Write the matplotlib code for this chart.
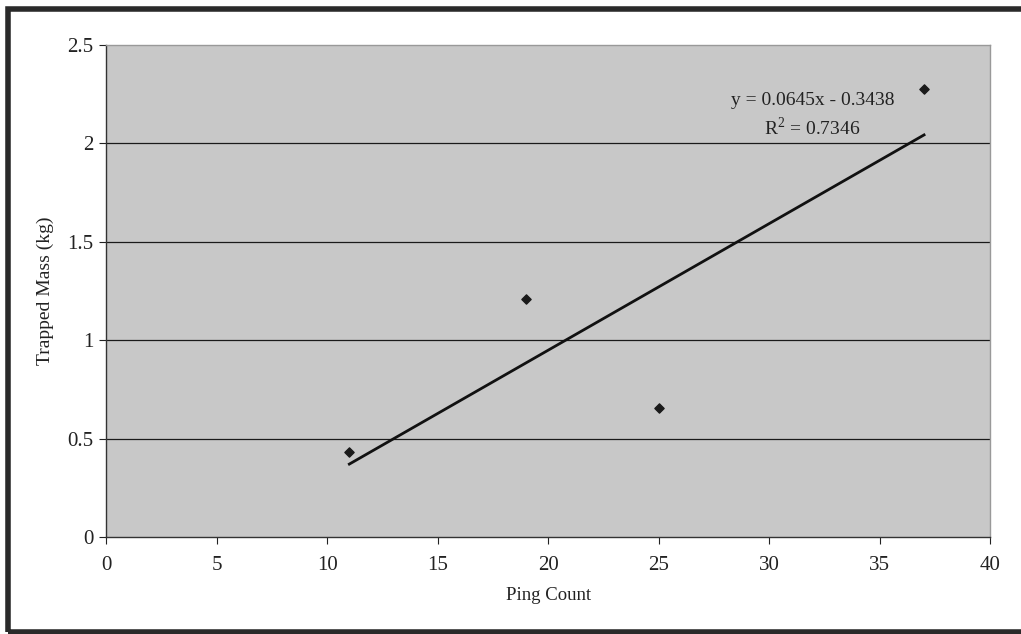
import matplotlib
matplotlib.use("Agg")
import matplotlib.pyplot as plt
from matplotlib.patches import Rectangle
import numpy as np

ping_count = [11, 19, 25, 37]
trapped_mass = [0.43, 1.21, 0.655, 2.275]
x_ticks = [0, 5, 10, 15, 20, 25, 30, 35, 40]
y_ticks = [0, 0.5, 1, 1.5, 2, 2.5]
y_tick_labels = ["0", "0.5", "1", "1.5", "2", "2.5"]
equation_text = "y = 0.0645x - 0.3438"
r2_text = "R$^2$ = 0.7346"

plt.rcParams['font.family'] = ['Liberation Serif', 'DejaVu Serif']
plt.rcParams['mathtext.fontset'] = 'custom'
plt.rcParams['mathtext.rm'] = 'Liberation Serif'

fig = plt.figure(figsize=(10.21, 6.34), dpi=100)
ax = fig.add_axes([0.104, 0.153, 0.866, 0.776])
ax.set_facecolor('#c8c8c8')

# outer frame
frame = Rectangle((8 / 1021, 2 / 634), 1.1, 623 / 634, transform=fig.transFigure,
                  fill=False, edgecolor='#2a2a2a', linewidth=4, clip_on=False)
fig.add_artist(frame)

ax.set_xlim(0, 40)
ax.set_ylim(0, 2.5)
ax.set_xticks(x_ticks)
ax.set_yticks(y_ticks)
ax.set_yticklabels(y_tick_labels)

for yv in y_ticks[1:-1]:
    ax.axhline(yv, color='#1a1a1a', linewidth=0.9, zorder=1)

ax.scatter(ping_count, trapped_mass, marker='D', s=22, color='#1a1a1a', zorder=3)

coef = np.polyfit(ping_count, trapped_mass, 1)
xs = np.array([min(ping_count), max(ping_count)])
ax.plot(xs, coef[0] * xs + coef[1], color='#111111', linewidth=2, zorder=2)

ax.text(31.95, 2.22, equation_text, ha='center', va='center', fontsize=14, color='#222222')
ax.text(31.95, 2.078, r2_text, ha='center', va='center', fontsize=14, color='#222222')

for side in ['top', 'right']:
    ax.spines[side].set_color('#999999')
    ax.spines[side].set_linewidth(1)
for side in ['left', 'bottom']:
    ax.spines[side].set_color('#333333')
    ax.spines[side].set_linewidth(1)
    ax.spines[side].set_linestyle((0, (3, 1)))

ax.tick_params(axis='both', labelsize=15, colors='#222222', direction='out', length=5)
ax.tick_params(axis='x', pad=9)
ax.tick_params(axis='y', pad=4)

ax.set_xlabel('Ping Count', fontsize=13.5, color='#222222', labelpad=8)
ax.set_ylabel('Trapped Mass (kg)', fontsize=14, color='#222222', labelpad=10)

fig.savefig('out.png', dpi=100, facecolor='white')
